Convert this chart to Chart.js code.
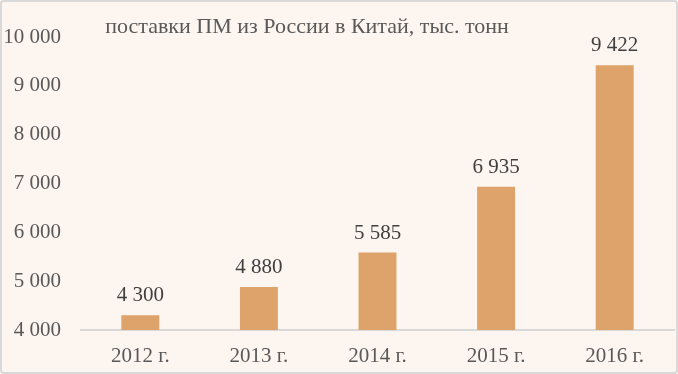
<!DOCTYPE html>
<html>
<head>
<meta charset="utf-8">
<script src="https://cdn.jsdelivr.net/npm/chart.js@4"></script>
<style>
  html, body { margin: 0; padding: 0; background: #ffffff; }
  #wrap { position: relative; width: 678px; height: 374px; background: #fdf5f0; }
  #frame { position: absolute; left: 0; top: 0; width: 678px; height: 374px; box-sizing: border-box;
           border: 2px solid #d9d9d9; border-radius: 4px; pointer-events: none; }
</style>
</head>
<body>
<div id="wrap">
  <canvas id="myChart" width="678" height="374"></canvas>
  <div id="frame"></div>
</div>
<script>
const TITLE = 'поставки ПМ из России в Китай, тыс. тонн';
const YEARS = ['2012 г.', '2013 г.', '2014 г.', '2015 г.', '2016 г.'];
const SUPPLY = [4300, 4880, 5585, 6935, 9422];

const FONT = '"Liberation Serif", "DejaVu Serif", serif';

function fmt(v) {
    return String(v).replace(/\B(?=(\d{3})+(?!\d))/g, ' ');
}

// title and value labels drawn on top of the chart
const labelsPlugin = {
    id: 'labels',
    afterDatasetsDraw(chart) {
        const ctx = chart.ctx;
        ctx.save();
        ctx.fillStyle = '#404040';
        ctx.font = '21px ' + FONT;
        ctx.textAlign = 'center';
        ctx.textBaseline = 'alphabetic';
        chart.getDatasetMeta(0).data.forEach((bar, i) => {
            ctx.fillText(fmt(SUPPLY[i]), bar.x, bar.y - 14);
        });
        ctx.fillStyle = '#595959';
        ctx.font = '22px ' + FONT;
        ctx.fillText(TITLE, 307, 33);
        ctx.restore();
    }
};

const ctx = document.getElementById('myChart').getContext('2d');
const myChart = new Chart(ctx, {
    type: 'bar',
    data: {
        labels: YEARS,
        datasets: [{
            data: SUPPLY,
            backgroundColor: '#dda36a',
            barPercentage: 0.32,
            categoryPercentage: 1
        }]
    },
    options: {
        responsive: false,
        animation: false,
        layout: { padding: { top: 37, right: 4, bottom: 0, left: 0 } },
        plugins: {
            legend: { display: false },
            tooltip: { enabled: false }
        },
        scales: {
            x: {
                grid: { display: false, drawTicks: false },
                border: { display: true, color: '#d9d9d9', width: 2 },
                ticks: { color: '#595959', font: { family: FONT, size: 21 }, padding: 14 },
                afterFit(scale) { scale.height = 44; }
            },
            y: {
                min: 4000,
                max: 10000,
                grid: { display: false, drawTicks: false },
                border: { display: false },
                ticks: {
                    stepSize: 1000,
                    color: '#595959',
                    font: { family: FONT, size: 21 },
                    padding: 20,
                    callback: v => fmt(v)
                },
                afterFit(scale) { scale.width = 81; }
            }
        }
    },
    plugins: [labelsPlugin]
});
</script>
</body>
</html>
